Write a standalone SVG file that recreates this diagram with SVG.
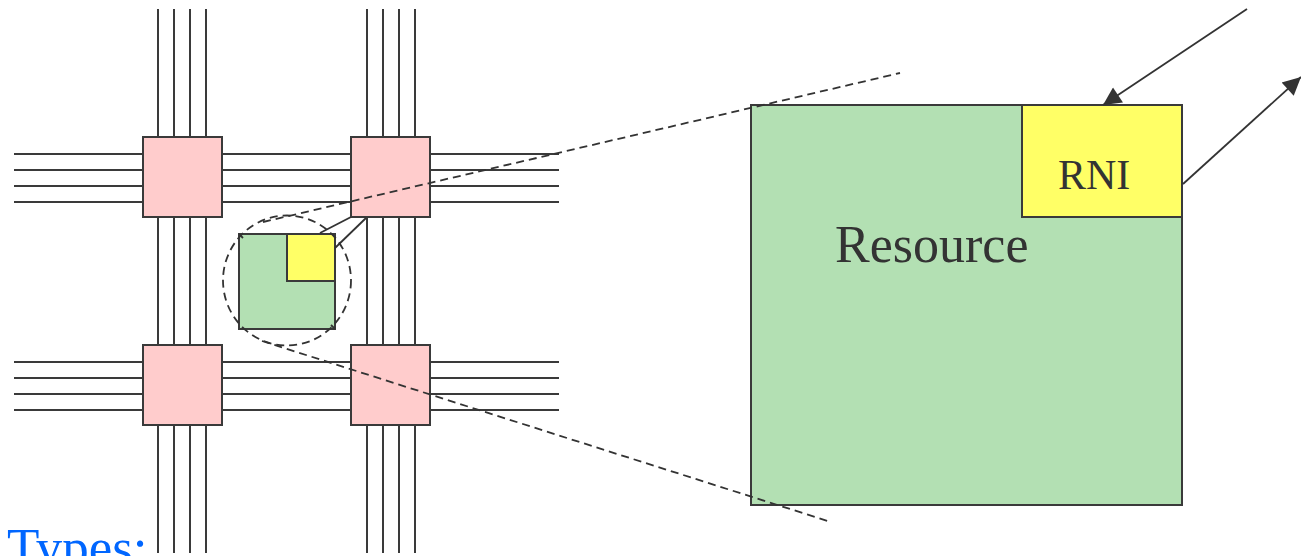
<svg xmlns="http://www.w3.org/2000/svg" width="1301" height="556" viewBox="0 0 1301 556">
<style>
.w{stroke:#3a3a3a;stroke-width:2;fill:none}
.router{fill:#ffcccc;stroke:#3a3a3a;stroke-width:2}
.res{fill:#b3e0b3;stroke:#3a3a3a;stroke-width:2}
.rni{fill:#ffff66;stroke:#3a3a3a;stroke-width:2}
.dash{stroke:#333;stroke-width:1.8;fill:none;stroke-dasharray:8,5}
.ln{stroke:#333;stroke-width:1.8;fill:none}
.t{font-family:"Liberation Serif","Times New Roman",serif;fill:#333}
</style>
<defs>
<marker id="ah2" viewBox="0 0 10 10" refX="10" refY="5" markerWidth="20" markerHeight="18" markerUnits="userSpaceOnUse" orient="auto">
<path d="M0,0 L10,5 L0,10 z" fill="#333"/>
</marker>
</defs>
<g id="wires">
<path class="w" d="M158,9V553M174,9V553M190,9V553M206,9V553M367,9V553M383,9V553M399,9V553M415,9V553"/>
<path class="w" d="M14,154H559M14,170H559M14,186H559M14,202H559M14,362H559M14,378H559M14,394H559M14,410H559"/>
</g>
<g id="router-tl"><rect class="router" x="143" y="137" width="79" height="80"/></g>
<g id="router-tr"><rect class="router" x="351" y="137" width="79" height="80"/></g>
<g id="router-bl"><rect class="router" x="143" y="345" width="79" height="80"/></g>
<g id="router-br"><rect class="router" x="351" y="345" width="79" height="80"/></g>
<g id="small-resource">
<rect class="res" x="239" y="234" width="96" height="95"/>
<rect class="rni" x="287" y="234" width="48" height="47"/>
</g>
<g id="zoom-ellipse"><ellipse class="dash" cx="287" cy="280.5" rx="64" ry="65"/></g>
<g id="big-resource">
<rect class="res" x="751" y="105" width="431" height="400"/>
<text class="t" x="835" y="262" font-size="52">Resource</text>
</g>
<g id="rni">
<rect class="rni" x="1022" y="105" width="160" height="112"/>
<text class="t" x="1058" y="189" font-size="42">RNI</text>
</g>
<g id="connectors">
<path class="dash" d="M263,222 L900,73"/>
<path class="dash" d="M262,341 L830,521.7"/>
<path class="ln" d="M239,234 L243,238 M335,329 L331,325"/>
<path class="ln" d="M320,233 L351,217"/>
<path class="ln" d="M335,248 L366,218"/>
<path class="ln" d="M1247,9 L1103,105" marker-end="url(#ah2)"/>
<path class="ln" d="M1183,184 L1301,77" marker-end="url(#ah2)"/>
</g>
<text x="7" y="565" font-size="53" font-family="Liberation Serif,'Times New Roman',serif" fill="#0066ff">Types:</text>
</svg>
